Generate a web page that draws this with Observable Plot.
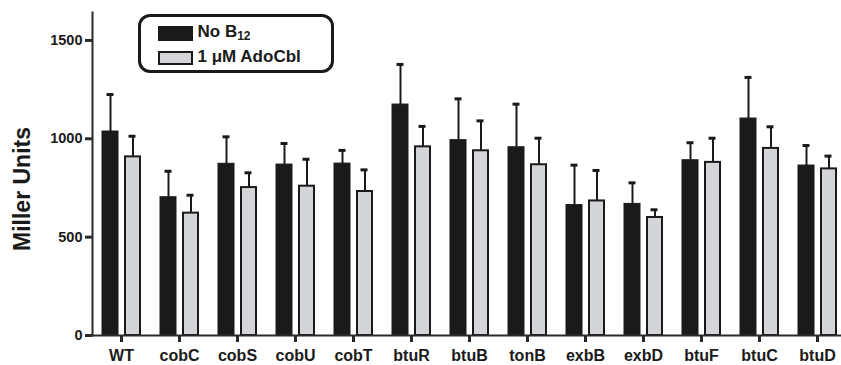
<!DOCTYPE html>
<html>
<head>
<meta charset="utf-8">
<script src="https://cdn.jsdelivr.net/npm/d3@7"></script>
<script src="https://cdn.jsdelivr.net/npm/@observablehq/plot@0.6"></script>
<style>
  html, body { margin: 0; padding: 0; background: #fff; }
  #wrap { position: relative; width: 841px; height: 365px; font-family: "Liberation Sans", Arial, sans-serif; }
  .legend { position: absolute; left: 138px; top: 14px; width: 196px; height: 59px; border: 3.5px solid #1a1a1a; border-radius: 12px; box-sizing: border-box; background: #fff; }
  .sw { position: absolute; left: 16.5px; width: 35px; box-sizing: border-box; }
  .lt { position: absolute; left: 56.5px; font-weight: bold; font-size: 17px; line-height: 17px; color: #1a1a1a; white-space: nowrap; }
  .lt sub { font-size: 12px; vertical-align: -3px; line-height: 0; }
</style>
</head>
<body>
<div id="wrap">
  <div id="chart"></div>
  <div class="legend">
    <div class="sw" style="top:8.5px;height:15px;background:#1a1a1a;"></div>
    <div class="lt" style="top:5.5px;">No B<sub>12</sub></div>
    <div class="sw" style="top:33.5px;height:14px;background:#d4d5d9;border:2px solid #1a1a1a;"></div>
    <div class="lt" style="top:31px;">1 μM AdoCbl</div>
  </div>
</div>
<script>
const categories = ["WT","cobC","cobS","cobU","cobT","btuR","btuB","tonB","exbB","exbD","btuF","btuC","btuD"];
const noB12 = [1037,703,873,869,874,1174,993,957,663,669,891,1103,864];
const noB12Err = [188,132,137,107,67,204,210,219,203,107,89,209,102];
const adoCbl = [908,622,752,759,732,959,939,868,684,600,880,951,847];
const adoCblErr = [105,91,75,137,110,104,152,135,155,39,123,110,65];
const yTicks = [0,500,1000,1500];

const data = categories.map((c, i) => ({
  cat: c, a: noB12[i], ae: noB12Err[i], b: adoCbl[i], be: adoCblErr[i]
}));

const ink = "#1a1a1a";
const axisInk = "#2a2a2a";

const chart = Plot.plot({
  width: 841,
  height: 365,
  marginLeft: 92,
  marginRight: -5,
  marginTop: 12,
  marginBottom: 30,
  style: { fontFamily: "Liberation Sans, Arial, sans-serif", fontWeight: "bold", color: ink, background: "#fff" },
  x: { domain: categories, type: "band", paddingInner: 0.345, paddingOuter: 0.1725, label: null },
  y: { domain: [0, 1642], label: null },
  marks: [
    // bars
    Plot.barY(data, { x: "cat", y: "a", fill: ink, stroke: ink, strokeWidth: 1, insetRight: 22 }),
    Plot.barY(data, { x: "cat", y: "b", fill: "#d4d5d9", stroke: ink, strokeWidth: 2, insetLeft: 23 }),
    // error bars
    Plot.ruleX(data, { x: "cat", y1: "a", y2: d => d.a + d.ae, dx: -11, stroke: ink, strokeWidth: 2 }),
    Plot.ruleX(data, { x: "cat", y1: "b", y2: d => d.b + d.be, dx: 11.5, stroke: ink, strokeWidth: 2 }),
    Plot.tickY(data, { x: "cat", y: d => d.a + d.ae, insetLeft: 4.5, insetRight: 26.5, stroke: ink, strokeWidth: 3 }),
    Plot.tickY(data, { x: "cat", y: d => d.b + d.be, insetLeft: 26.5, insetRight: 4.5, stroke: ink, strokeWidth: 3 }),
    // axis lines
    Plot.ruleY([0], { stroke: axisInk, strokeWidth: 2 }),
    Plot.frame({ anchor: "left", stroke: axisInk, strokeWidth: 2 }),
    // tick marks
    Plot.ruleY(yTicks, { y: d => d, insetLeft: -7, insetRight: 754, stroke: axisInk, strokeWidth: 3 }),
    Plot.ruleX(categories, { x: d => d, insetTop: 323, insetBottom: -7, stroke: axisInk, strokeWidth: 3 }),
    // tick labels
    Plot.axisY(yTicks, { tickSize: 0, tickPadding: 10, tickFormat: d => String(d), fontSize: 14.5, fontWeight: "bold", fill: ink, label: null }),
    Plot.axisX({ tickSize: 0, tickPadding: 14, fontSize: 16, fontWeight: "bold", fill: ink, label: null }),
    Plot.text(["Miller Units"], { frameAnchor: "left", dx: -70, dy: 15, rotate: -90, textAnchor: "middle", lineAnchor: "middle", fontSize: 23, fontWeight: "bold", fill: ink })
  ]
});
document.getElementById("chart").appendChild(chart);
</script>
</body>
</html>
